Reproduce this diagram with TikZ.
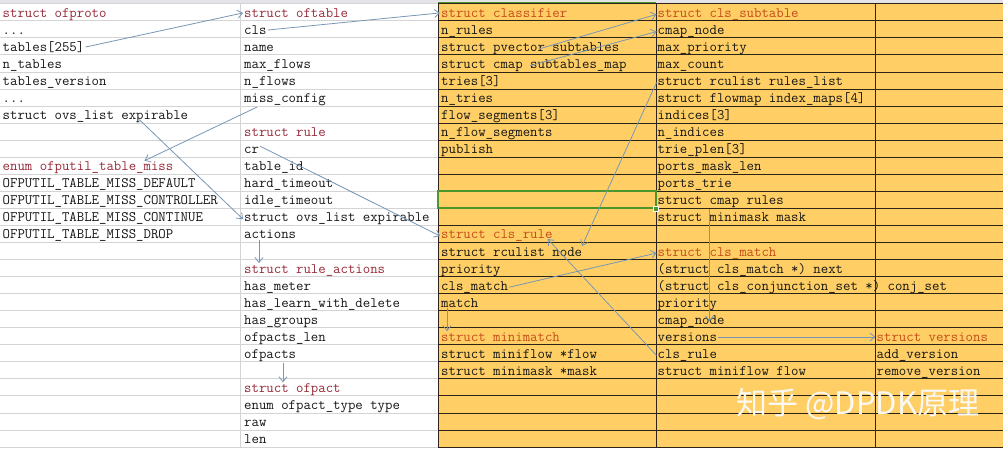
\documentclass[tikz,border=0pt]{standalone}
\usepackage{fontspec}
\usetikzlibrary{arrows.meta}
\newfontfamily\cjkfont{Noto Sans CJK SC}
\definecolor{cellorange}{RGB}{255,207,102}
\definecolor{darkred}{RGB}{150,40,55}
\definecolor{headorange}{RGB}{195,75,25}
\definecolor{gridgray}{RGB}{212,212,212}
\definecolor{griddark}{RGB}{45,35,25}
\definecolor{selgreen}{RGB}{75,150,45}
\definecolor{linkblue}{RGB}{120,150,180}
\definecolor{ink}{RGB}{20,20,20}
\definecolor{topgray}{RGB}{228,228,232}
\definecolor{markwhite}{RGB}{250,248,242}

\tikzset{
  >={Straight Barb[length=5pt,width=8pt]},
  cell/.style={anchor=base west, inner sep=1pt, font=\ttfamily\fontsize{14.4}{16}\selectfont, text=ink},
  head/.style={cell, text=darkred},
  ohead/.style={cell, text=headorange},
  link/.style={->, linkblue, line width=0.8pt}
}

\begin{document}
\begin{tikzpicture}[x=1pt, y=-17.05pt]
     \useasboundingbox (0,-0.217) rectangle (1003,26.176);
     % sheet background
     \fill[topgray] (0,-0.217) rectangle (1003,0);
     \fill[cellorange] (438,0) rectangle (1003,26);
     \foreach \r in {0,...,26} {
       \draw[gridgray, line width=0.8pt] (0,\r) -- (438,\r);
       \draw[griddark, line width=0.8pt] (438,\r) -- (1003,\r);
     }
     \draw[gridgray, line width=0.8pt] (240,0) -- (240,26);
     \draw[griddark, line width=0.8pt] (438,0) -- (438,26) (656,0) -- (656,26) (875,0) -- (875,26);

     % selected cell
     \draw[selgreen, line width=1.5pt] (438,-0.08) -- (656,-0.08);
     \draw[selgreen, line width=2pt] (438,11) rectangle (656,12);
     \node[fill=selgreen, draw=white, line width=0.6pt, inner sep=0, minimum size=5pt] (handle) at (656,12) {};

     % struct ofproto
     \node[head] (a0) at (1.5,0.8) {struct ofproto};
     \node[cell] (a1) at (1.5,1.8) {...};
     \node[cell] (a2) at (1.5,2.8) {tables[255]};
     \node[cell] (a3) at (1.5,3.8) {n\_tables};
     \node[cell] (a4) at (1.5,4.8) {tables\_version};
     \node[cell] (a5) at (1.5,5.8) {...};
     \node[cell] (a6) at (1.5,6.8) {struct ovs\_list expirable};
     \node[head] (a9) at (1.5,9.8) {enum ofputil\_table\_miss};
     \node[cell] (a10) at (1.5,10.8) {OFPUTIL\_TABLE\_MISS\_DEFAULT};
     \node[cell] (a11) at (1.5,11.8) {OFPUTIL\_TABLE\_MISS\_CONTROLLER};
     \node[cell] (a12) at (1.5,12.8) {OFPUTIL\_TABLE\_MISS\_CONTINUE};
     \node[cell] (a13) at (1.5,13.8) {OFPUTIL\_TABLE\_MISS\_DROP};

     % struct oftable, struct rule
     \node[head] (b0) at (243,0.8) {struct oftable};
     \node[cell] (b1) at (243,1.8) {cls};
     \node[cell] (b2) at (243,2.8) {name};
     \node[cell] (b3) at (243,3.8) {max\_flows};
     \node[cell] (b4) at (243,4.8) {n\_flows};
     \node[cell] (b5) at (243,5.8) {miss\_config};
     \node[head] (b7) at (243,7.8) {struct rule};
     \node[cell] (b8) at (243,8.8) {cr};
     \node[cell] (b9) at (243,9.8) {table\_id};
     \node[cell] (b10) at (243,10.8) {hard\_timeout};
     \node[cell] (b11) at (243,11.8) {idle\_timeout};
     \node[cell] (b12) at (243,12.8) {struct ovs\_list expirable};
     \node[cell] (b13) at (243,13.8) {actions};
     \node[head] (b15) at (243,15.8) {struct rule\_actions};
     \node[cell] (b16) at (243,16.8) {has\_meter};
     \node[cell] (b17) at (243,17.8) {has\_learn\_with\_delete};
     \node[cell] (b18) at (243,18.8) {has\_groups};
     \node[cell] (b19) at (243,19.8) {ofpacts\_len};
     \node[cell] (b20) at (243,20.8) {ofpacts};
     \node[head] (b22) at (243,22.8) {struct ofpact};
     \node[cell] (b23) at (243,23.8) {enum ofpact\_type type};
     \node[cell] (b24) at (243,24.8) {raw};
     \node[cell] (b25) at (243,25.8) {len};

     % struct classifier, cls_rule, minimatch
     \node[ohead] (c0) at (440,0.8) {struct classifier};
     \node[cell] (c1) at (440,1.8) {n\_rules};
     \node[cell] (c2) at (440,2.8) {struct pvector subtables};
     \node[cell] (c3) at (440,3.8) {struct cmap subtables\_map};
     \node[cell] (c4) at (440,4.8) {tries[3]};
     \node[cell] (c5) at (440,5.8) {n\_tries};
     \node[cell] (c6) at (440,6.8) {flow\_segments[3]};
     \node[cell] (c7) at (440,7.8) {n\_flow\_segments};
     \node[cell] (c8) at (440,8.8) {publish};
     \node[ohead] (c13) at (440,13.8) {struct cls\_rule};
     \node[cell] (c14) at (440,14.8) {struct rculist node};
     \node[cell] (c15) at (440,15.8) {priority};
     \node[cell] (c16) at (440,16.8) {cls\_match};
     \node[cell] (c17) at (440,17.8) {match};
     \node[ohead] (c19) at (440,19.8) {struct minimatch};
     \node[cell] (c20) at (440,20.8) {struct miniflow *flow};
     \node[cell] (c21) at (440,21.8) {struct minimask *mask};

     % struct cls_subtable, cls_match
     \node[ohead] (d0) at (656.5,0.8) {struct cls\_subtable};
     \node[cell] (d1) at (656.5,1.8) {cmap\_node};
     \node[cell] (d2) at (656.5,2.8) {max\_priority};
     \node[cell] (d3) at (656.5,3.8) {max\_count};
     \node[cell] (d4) at (656.5,4.8) {struct rculist rules\_list};
     \node[cell] (d5) at (656.5,5.8) {struct flowmap index\_maps[4]};
     \node[cell] (d6) at (656.5,6.8) {indices[3]};
     \node[cell] (d7) at (656.5,7.8) {n\_indices};
     \node[cell] (d8) at (656.5,8.8) {trie\_plen[3]};
     \node[cell] (d9) at (656.5,9.8) {ports\_mask\_len};
     \node[cell] (d10) at (656.5,10.8) {ports\_trie};
     \node[cell] (d11) at (656.5,11.8) {struct cmap rules};
     \node[cell] (d12) at (656.5,12.8) {struct minimask mask};
     \node[ohead] (d14) at (656.5,14.8) {struct cls\_match};
     \node[cell] (d15) at (656.5,15.8) {(struct cls\_match *) next};
     \node[cell] (d16) at (656.5,16.8) {(struct cls\_conjunction\_set *) conj\_set};
     \node[cell] (d17) at (656.5,17.8) {priority};
     \node[cell] (d18) at (656.5,18.8) {cmap\_node};
     \node[cell] (d19) at (656.5,19.8) {versions};
     \node[cell] (d20) at (656.5,20.8) {cls\_rule};
     \node[cell] (d21) at (656.5,21.8) {struct miniflow flow};

     % struct versions
     \node[ohead] (e19) at (875.5,19.8) {struct versions};
     \node[cell] (e20) at (875.5,20.8) {add\_version};
     \node[cell] (e21) at (875.5,21.8) {remove\_version};

     % pointers
     \draw[link] (a2.east) -- (b0.west);
     \draw[link] (b1.east) -- (c0.west);
     \draw[link] ([xshift=14pt]b5.south west) -- ([xshift=-30pt]a9.north east);
     \draw[link] ([xshift=-50pt]a6.base east) -- (b12.west);
     \draw[link] (b8.north east) -- (c13.west);
     \draw[link] ([xshift=16pt]b13.south west) -- ([xshift=16pt]b15.north west);
     \draw[link] ([xshift=40pt]b20.south west) -- ([xshift=40pt]b22.north west);
     \draw[link] ([xshift=100pt]c2.west) -- (d0.west);
     \draw[link] ([xshift=90pt]c3.west) -- (d1.west);
     \draw[link] (d4.west) -- ([xshift=142pt]c14.north west);
     \draw[link] (c16.east) -- (d14.west);
     \draw[link] (d20.west) -- ([xshift=-6pt]c13.base east);
     \draw[link] ([xshift=7pt]c17.south west) -- ([xshift=7pt]c19.north west);
     \draw[link] ([xshift=53pt]d11.south west) -- ([xshift=53pt]d18.west);
     \draw[link] (d19.east) -- (e19.west);

     % watermark
     \node[text=markwhite, font=\cjkfont\fontsize{31}{31}\selectfont] (mark) at (858,23.48) {知乎 @DPDK原理};
\end{tikzpicture}
\end{document}
